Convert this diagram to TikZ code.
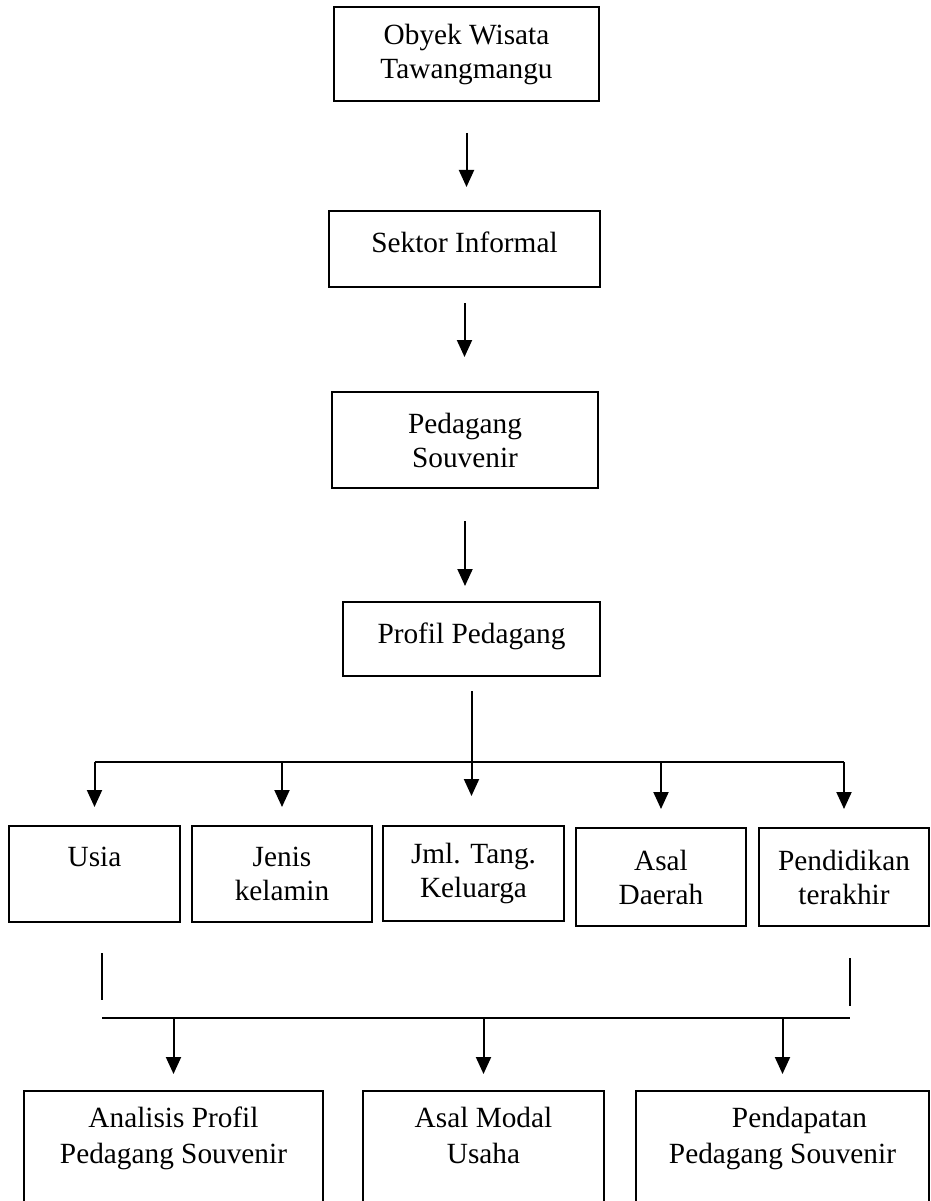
\documentclass[tikz,border=0pt]{standalone}
\usepackage{fontspec}
\setmainfont{Liberation Serif}
\usetikzlibrary{arrows.meta,positioning}

\begin{document}
\begin{tikzpicture}[x=1pt,y=-1pt,>={Triangle[width=15pt,length=17pt]},line width=2pt,
        box/.style={draw, align=center, inner sep=0pt, font=\fontsize{29.3}{34}\selectfont},
        boxtext/.style={align=center, inner sep=0pt, font=\fontsize{29.3}{36}\selectfont}]
        \useasboundingbox (0,0) rectangle (930,1201);
        \clip (0,0) rectangle (930,1201);

        \node[box, minimum width=265pt, minimum height=94pt] (obyek) at (466.5,54) {Obyek Wisata\\Tawangmangu};
        \node[box, minimum width=271pt, minimum height=76pt, text depth=13pt] (sektor) at (464.5,249) {Sektor Informal};
        \node[box, minimum width=266pt, minimum height=96pt] (pedagang) at (465,440) {Pedagang\\Souvenir};
        \node[box, minimum width=257pt, minimum height=74pt, text depth=12pt] (profil) at (471.5,639) {Profil Pedagang};

        \node[box, minimum width=171pt, minimum height=96pt] (usia) at (94.5,874) {Usia\\\phantom{kelamin}};
        \node[box, minimum width=180pt, minimum height=96pt] (jenis) at (282,874) {Jenis\\kelamin};
        \node[box, minimum width=181pt, minimum height=95pt] (jml) at (473.5,873.5) {Jml. Tang.\\Keluarga};
        \node[box, minimum width=170pt, minimum height=98pt] (asal) at (661,877) {Asal\\Daerah};
        \node[box, minimum width=170pt, minimum height=98pt] (pend) at (844,877) {Pendidikan\\terakhir};

        \node[box, minimum width=299pt, minimum height=160pt, anchor=north] (analisis) at (173.5,1090) {};
        \node[boxtext, below=16pt of analisis.north] (analisisText) {Analisis Profil\\Pedagang Souvenir};
        \node[box, minimum width=241pt, minimum height=160pt, anchor=north] (modal) at (483.5,1090) {};
        \node[boxtext, below=16pt of modal.north] (modalText) {Asal Modal\\Usaha};
        \node[box, minimum width=293pt, minimum height=160pt, anchor=north] (pendapatan) at (782.5,1090) {};
        \node[boxtext, below=16pt of pendapatan.north] (pendapatanText) {\hspace{34pt}Pendapatan\\Pedagang Souvenir};

        \coordinate (bus) at (0,762);
        \coordinate (joinL) at (102,1018);
        \coordinate (joinR) at (850,1018);

        \draw[->, shorten <=31pt, shorten >=23pt] (obyek) -- (obyek |- sektor.north);
        \draw[->, shorten <=15pt, shorten >=34pt] (sektor) -- (sektor |- pedagang.north);
        \draw[->, shorten <=32pt, shorten >=15pt] (pedagang) -- (pedagang |- profil.north);
        \draw[->, shorten <=14pt, shorten >=29pt] (profil) -- (profil |- jml.north);

        \draw (usia.north |- bus) -- (pend.north |- bus);
        \foreach \n in {usia,jenis,asal,pend}
          \draw[->, shorten >=18pt] (\n.north |- bus) -- (\n.north);

        \draw[shorten <=30pt, shorten >=18pt] (joinL |- usia.south) -- (joinL);
        \draw[shorten <=31pt, shorten >=12pt] (joinR |- pend.south) -- (joinR);
        \draw (joinL) -- (joinR);
        \foreach \n in {analisis,modal,pendapatan}
          \draw[->, shorten >=16pt] (\n.north |- joinL) -- (\n.north);
      \end{tikzpicture}
\end{document}
